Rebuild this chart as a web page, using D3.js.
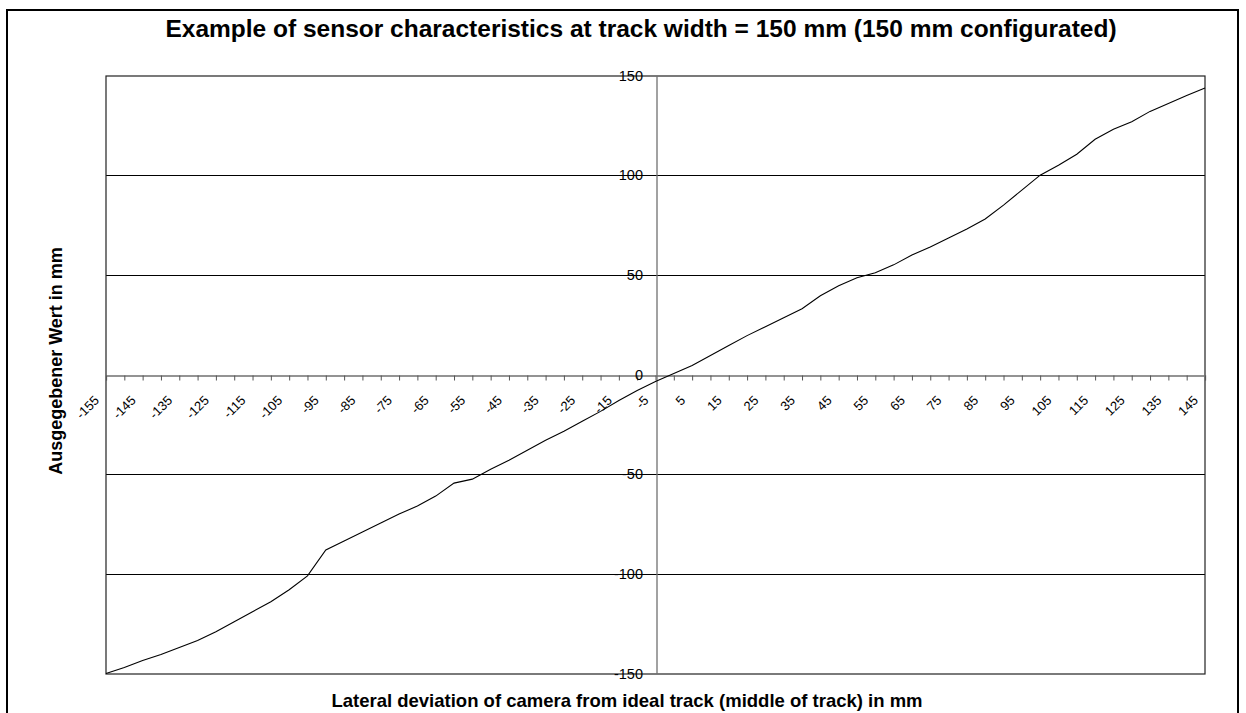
<!DOCTYPE html>
<html><head><meta charset="utf-8">
<script src="https://cdn.jsdelivr.net/npm/d3@7"></script>
<style>
html,body{margin:0;padding:0;background:#fff;}
svg{display:block;font-family:Arial,"Liberation Sans",sans-serif;}
</style></head>
<body>
<svg id="c" width="1246" height="713"></svg>
<script>
const titleText = "Example of sensor characteristics at track width = 150 mm (150 mm configurated)";
const xTitle = "Lateral deviation of camera from ideal track (middle of track) in mm";
const yTitle = "Ausgegebener Wert in mm";

const deviation = [-150,-145,-140,-135,-130,-125,-120,-115,-110,-105,-100,-95,-90,-85,-80,-75,-70,-65,-60,-55,-50,-45,-40,-35,-30,-25,-20,-15,-10,-5,0,5,10,15,20,25,30,35,40,45,50,55,60,65,70,75,80,85,90,95,100,105,110,115,120,125,130,135,140,145,150];
const output = [-150,-147,-143.5,-140.5,-137,-133.5,-129,-124,-119,-114,-108,-101,-88,-83.5,-79,-74.5,-70,-66,-61,-54.5,-52.5,-47.5,-43,-38,-33,-28.5,-23.5,-18.5,-13,-8,-3.5,0.5,4.5,9.5,14.5,19.5,24,28.5,33,39.5,44.5,48.5,51,55,60,64,68.5,73,78,85,92.5,100,105,110.5,118,123,126.8,132,136,140,143.7];

const xTickMarks = [-150,-145,-140,-135,-130,-125,-120,-115,-110,-105,-100,-95,-90,-85,-80,-75,-70,-65,-60,-55,-50,-45,-40,-35,-30,-25,-20,-15,-10,-5,0,5,10,15,20,25,30,35,40,45,50,55,60,65,70,75,80,85,90,95,100,105,110,115,120,125,130,135,140,145,150];
const xTickLabels = [-155,-145,-135,-125,-115,-105,-95,-85,-75,-65,-55,-45,-35,-25,-15,-5,5,15,25,35,45,55,65,75,85,95,105,115,125,135,145];
const yTickLabels = [150,100,50,0,-50,-100,-150];
const yGrid = [-100,-50,50,100];

const svg = d3.select("#c");
const L = 106, R = 1205, T = 75.5, B = 673.5;
const x = d3.scaleLinear().domain([-150,150]).range([L,R]);
const y = d3.scaleLinear().domain([-150,150]).range([B,T]);

// outer frame
svg.append("rect").attr("x",7).attr("y",10).attr("width",1231).attr("height",720)
  .attr("fill","#fff").attr("stroke","#000").attr("stroke-width",2);

// title
svg.append("text").attr("x",641).attr("y",37).attr("text-anchor","middle")
  .attr("font-size",24.5).attr("font-weight","bold").text(titleText);

// gridlines
svg.append("g").selectAll("line").data(yGrid).join("line")
  .attr("x1",L).attr("x2",R).attr("y1",d=>Math.round(y(d))+0.5).attr("y2",d=>Math.round(y(d))+0.5)
  .attr("stroke","#000").attr("stroke-width",1);

// plot border
svg.append("rect").attr("x",L).attr("y",Math.round(T)).attr("width",R-L).attr("height",Math.round(B)-Math.round(T))
  .attr("fill","none").attr("stroke","#222").attr("stroke-width",1.2);

// x axis (at y=0)
const y0 = Math.round(y(0))+0.5;
const xAxis = d3.axisBottom(x).tickValues(xTickMarks).tickSize(5).tickFormat("");
const gx = svg.append("g").attr("transform",`translate(0,${y0})`).call(xAxis);
gx.select(".domain").attr("stroke","#707070").attr("stroke-width",1.3);
gx.selectAll(".tick line").attr("stroke","#555");

// x tick labels (rotated)
svg.append("g").selectAll("text").data(xTickLabels).join("text")
  .attr("transform",d=>`translate(${x(d)+9},398) rotate(-45)`)
  .attr("text-anchor","end").attr("dy","0.35em").attr("font-size",13).attr("fill","#000")
  .text(d=>d);

// y axis at x=0
const x0 = Math.round(x(0))+0.5;
const yAxis = d3.axisLeft(y).tickValues(yTickLabels).tickSize(0).tickFormat("");
const gy = svg.append("g").attr("transform",`translate(${x0},0)`).call(yAxis);
gy.select(".domain").attr("stroke","#707070").attr("stroke-width",1.3);

// y tick labels
svg.append("g").selectAll("text").data(yTickLabels).join("text")
  .attr("x",643).attr("y",d=>y(d)).attr("dy","0.35em").attr("text-anchor","end")
  .attr("font-size",14.5).attr("fill","#000").text(d=>d);

// line
const line = d3.line().x((d,i)=>x(deviation[i])).y(d=>y(d));
svg.append("path").datum(output).attr("d",line).attr("fill","none")
  .attr("stroke","#000").attr("stroke-width",1.1);

// axis titles
svg.append("text").attr("x",627).attr("y",707).attr("text-anchor","middle")
  .attr("font-size",18.5).attr("font-weight","bold").text(xTitle);
svg.append("text").attr("transform","translate(62,361) rotate(-90)").attr("text-anchor","middle")
  .attr("font-size",18).attr("font-weight","bold").text(yTitle);
</script>
</body></html>
